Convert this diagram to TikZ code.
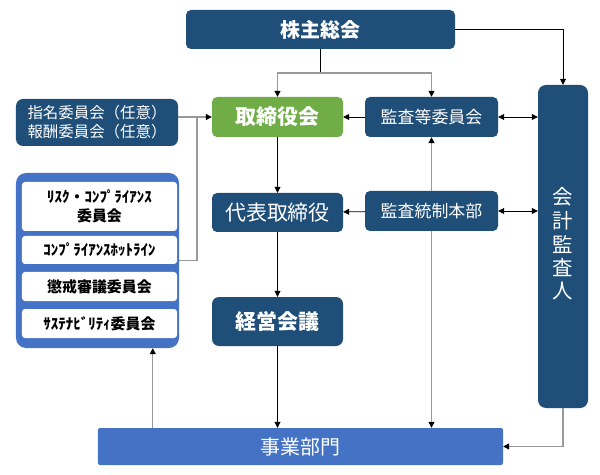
\documentclass[tikz,border=0pt]{standalone}
\usepackage{fontspec}
\setmainfont{Noto Sans CJK JP}
\usetikzlibrary{arrows.meta}
\definecolor{orgdark}{RGB}{31,78,121}
\definecolor{orggreen}{RGB}{112,173,71}
\definecolor{orgblue}{RGB}{68,114,196}
\newcommand\tatetext[1]{\begin{tabular}{@{}c@{}}#1\end{tabular}}
\begin{document}
\begin{tikzpicture}[x=1bp, y=-1bp,
	box/.style={fill=orgdark, text=white, rounded corners=5bp, inner sep=0pt, align=center},
	wbox/.style={fill=white, text=black, rounded corners=3bp, inner sep=0pt, minimum width=155bp, align=center, font=\fontsize{15}{19}\selectfont\bfseries},
	ln/.style={draw=black, line width=0.8bp},
	gln/.style={draw=black!40, line width=1.2bp},
	arr/.style={-{Triangle[length=6bp,width=6bp,black]}},
	darr/.style={{Triangle[length=6bp,width=6bp,black]}-{Triangle[length=6bp,width=6bp,black]}}]
	\useasboundingbox (0,0) rectangle (600,475);
	% 上段
	\node [box, minimum width=269bp, minimum height=39bp, font=\fontsize{20}{24}\selectfont\bfseries] (sh) at (320.5,29.5) {株主総会};
	\node [box, fill=orggreen, minimum width=131bp, minimum height=40bp, font=\fontsize{21}{24}\selectfont\bfseries] (bod) at (277.5,117) {取締役会};
	\node [box, minimum width=133bp, minimum height=40bp, font=\fontsize{17}{20}\selectfont] (ac) at (431.5,117) {監査等委員会};
	\node [box, rounded corners=8bp, minimum width=50bp, minimum height=323bp, font=\fontsize{20.5}{22}\selectfont] (aud) at (563,246.5) {\tatetext{会\\計\\監\\査\\人}};
	% 中段
	\node [box, minimum width=131bp, minimum height=39bp, font=\fontsize{21}{24}\selectfont] (ceo) at (277.5,212.5) {代表取締役};
	\node [box, minimum width=133bp, minimum height=40bp, font=\fontsize{17}{20}\selectfont] (acd) at (431.5,211) {監査統制本部};
	\node [box, rounded corners=7bp, minimum width=131bp, minimum height=49bp, font=\fontsize{21}{24}\selectfont\bfseries] (mgmt) at (277.5,321.5) {経営会議};
	\node [box, fill=orgblue, rounded corners=2bp, minimum width=405bp, minimum height=37bp, font=\fontsize{20}{24}\selectfont] (biz) at (300.5,446.5) {事業部門};
	% 左側の委員会
	\node [box, rounded corners=7bp, minimum width=162bp, minimum height=47bp, font=\fontsize{15.5}{19}\selectfont] (nom) at (97,122.5) {指名委員会（任意）\\報酬委員会（任意）};
	\node [box, fill=orgblue, rounded corners=10bp, minimum width=163bp, minimum height=175bp] (cmt) at (97.5,260.5) {};
	\node [wbox, minimum height=49bp] (rc) at (99.5,206.5) {ﾘｽｸ・ｺﾝﾌﾟﾗｲｱﾝｽ\\委員会};
	\node [wbox, minimum height=28bp] (hl) at (99.5,250) {ｺﾝﾌﾟﾗｲｱﾝｽﾎｯﾄﾗｲﾝ};
	\node [wbox, minimum height=29bp] (dc) at (99.5,286.5) {懲戒審議委員会};
	\node [wbox, minimum height=29bp] (sc) at (99.5,323.5) {ｻｽﾃﾅﾋﾞﾘﾃｨ委員会};
	% 接続線
	\coordinate (jn) at (320.5,73);
	\coordinate (jl) at (197,117);
	\draw [ln] (sh) -- (jn);
	\draw [gln, arr] (jn) -| (bod);
	\draw [gln, arr] (jn) -| (ac);
	\draw [ln, arr] (sh.east) -| (aud.north);
	\draw [ln, arr] (ac) -- (bod);
	\draw [ln, darr] (ac.east) -- (ac.east -| aud.west);
	\draw [ln, arr] (acd) -- (ceo);
	\draw [ln, darr] (acd.east) -- (acd.east -| aud.west);
	\draw [ln, arr] (bod) -- (ceo);
	\draw [ln, arr] (ceo) -- (mgmt);
	\draw [ln, arr] (mgmt) -- (mgmt |- biz.north);
	\draw [gln, arr] (acd.north) -- (ac.south);
	\draw [gln, arr] (acd.south) -- (acd.south |- biz.north);
	\draw [gln, arr] (aud.south) |- (biz.east);
	\draw [gln, arr] ([xshift=55bp]biz.north west) -- ([xshift=55bp]biz.north west |- cmt.south);
	\draw [gln, arr] (bod.west -| nom.east) -- (bod.west);
	\draw [gln] (cmt.east) -| (jl);
\end{tikzpicture}
\end{document}
